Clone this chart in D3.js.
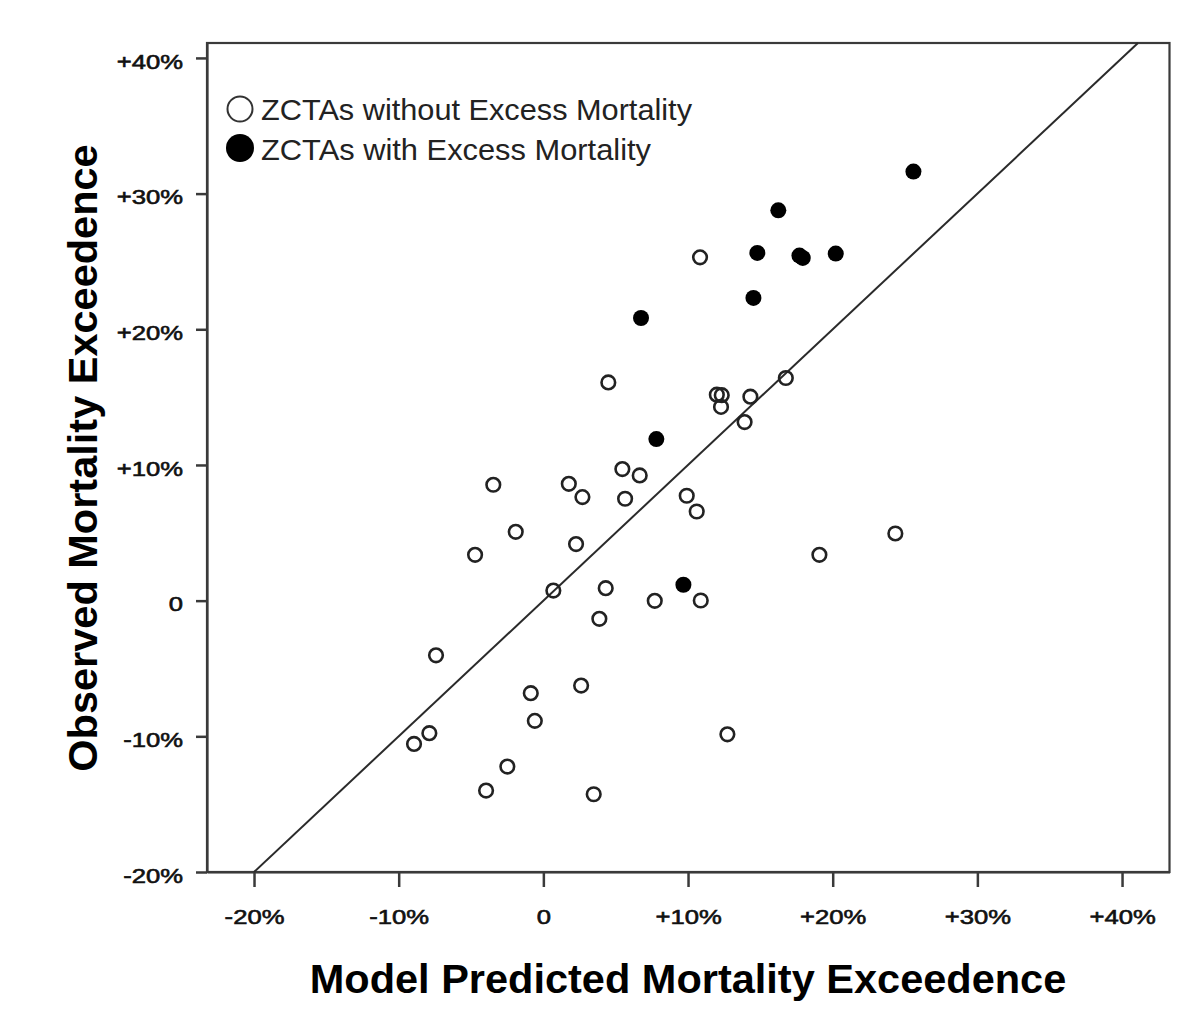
<!DOCTYPE html>
<html>
<head>
<meta charset="utf-8">
<script src="https://cdn.jsdelivr.net/npm/d3@7"></script>
<style>
  html, body { margin: 0; padding: 0; background: #fff; }
  svg { display: block; }
</style>
</head>
<body>
<svg id="chart" width="1200" height="1020"></svg>
<script>
// ---- Data (percent exceedence) ----
const withoutX = [4.49, 11.99, 12.33, 12.28, 14.31, 13.91, 16.76, 10.83, 5.46, 6.66,
  -3.46, 1.76, 2.70, 5.65, 9.91, 10.60, -1.91, 2.26, -4.72, 0.69,
  4.31, 7.70, 10.88, 3.87, -7.42, -0.87, 2.61, -0.59, -7.88, -8.94,
  12.72, -2.49, -3.96, 3.48, 19.08, 24.33];
const withoutY = [16.08, 15.18, 15.14, 14.28, 15.03, 13.16, 16.41, 25.30, 9.70, 9.23,
  8.54, 8.61, 7.63, 7.51, 7.73, 6.57, 5.07, 4.17, 3.38, 0.74,
  0.92, -0.01, 0.01, -1.34, -4.03, -6.82, -6.26, -8.86, -9.77, -10.56,
  -9.85, -12.23, -14.00, -14.27, 3.38, 4.95];
const withX = [25.58, 16.24, 14.79, 17.70, 17.93, 20.21, 14.52, 6.75, 7.81, 9.68];
const withY = [31.62, 28.77, 25.63, 25.43, 25.26, 25.58, 22.31, 20.83, 11.91, 1.17];
const xTicks = [-20, -10, 0, 10, 20, 30, 40];
const yTicks = [-20, -10, 0, 10, 20, 30, 40];
const legendLabels = ["ZCTAs without Excess Mortality", "ZCTAs with Excess Mortality"];
const xTitle = "Model Predicted Mortality Exceedence";
const yTitle = "Observed Mortality Exceedence";
const xDomain = [-23.25, 43.28];
const yDomain = [-20, 41.1];
const identityLine = [-20, 41.1];

const fmt = v => v > 0 ? "+" + v + "%" : (v < 0 ? v + "%" : "0");

// ---- Layout ----
const L = 207, R = 1169.5, T = 43, B = 872;
const svg = d3.select("#chart");
const x = d3.scaleLinear().domain(xDomain).range([L, R]);
const y = d3.scaleLinear().domain(yDomain).range([B, T]);

const dark = "#2a2a2a";
const tickFont = "'Liberation Sans', Arial, sans-serif";

// Frame
svg.append("rect")
  .attr("x", L).attr("y", T).attr("width", R - L).attr("height", B - T)
  .attr("fill", "none").attr("stroke", "#3a3a3a").attr("stroke-width", 2.2);

// X axis
const xAxis = svg.append("g")
  .attr("transform", `translate(0,${B})`)
  .call(d3.axisBottom(x).tickValues(xTicks).tickFormat(fmt)
    .tickSizeInner(15).tickSizeOuter(0).tickPadding(22));
xAxis.select(".domain").attr("stroke", "#3a3a3a").attr("stroke-width", 2.2);
xAxis.selectAll(".tick line").attr("stroke", "#3a3a3a").attr("stroke-width", 2.5);
xAxis.selectAll(".tick text").attr("dy", "0.71em");

// Y axis
const yAxis = svg.append("g")
  .attr("transform", `translate(${L},0)`)
  .call(d3.axisLeft(y).tickValues(yTicks).tickFormat(fmt)
    .tickSizeInner(11).tickSizeOuter(0).tickPadding(13));
yAxis.select(".domain").attr("stroke", "#3a3a3a").attr("stroke-width", 2.2);
yAxis.selectAll(".tick line").attr("stroke", "#3a3a3a").attr("stroke-width", 2.5);
yAxis.selectAll(".tick text").attr("dy", "0.5em");

// Tick label styling: wide, slightly heavy glyphs as in the reference
svg.selectAll(".tick text")
  .attr("font-family", tickFont).attr("font-size", 20.5).attr("fill", "#111")
  .attr("stroke", "#111").attr("stroke-width", 0.6)
  .each(function () {
    const w = this.getComputedTextLength();
    d3.select(this).attr("textLength", w * 1.25).attr("lengthAdjust", "spacingAndGlyphs");
  });

// Identity line
svg.append("line")
  .attr("x1", x(identityLine[0])).attr("y1", y(identityLine[0]))
  .attr("x2", x(identityLine[1])).attr("y2", y(identityLine[1]))
  .attr("stroke", dark).attr("stroke-width", 2);

// Points: without excess mortality (open)
const openData = withoutX.map((v, i) => [v, withoutY[i]]);
svg.append("g").selectAll("circle").data(openData).join("circle")
  .attr("cx", d => x(d[0])).attr("cy", d => y(d[1])).attr("r", 6.8)
  .attr("fill", "none").attr("stroke", "#222").attr("stroke-width", 2.6);

// Points: with excess mortality (filled)
const fillData = withX.map((v, i) => [v, withY[i]]);
svg.append("g").selectAll("circle").data(fillData).join("circle")
  .attr("cx", d => x(d[0])).attr("cy", d => y(d[1])).attr("r", 8)
  .attr("fill", "#000");

// Legend
const legendWidths = [431, 390];
const lg = svg.append("g");
lg.append("circle").attr("cx", 240).attr("cy", 109).attr("r", 12.5)
  .attr("fill", "none").attr("stroke", "#333").attr("stroke-width", 2);
lg.append("circle").attr("cx", 240).attr("cy", 148).attr("r", 14).attr("fill", "#000");
lg.selectAll("text").data(legendLabels).join("text")
  .attr("x", 261).attr("y", (d, i) => 120 + i * 39.5)
  .attr("font-family", tickFont).attr("font-size", 29.5).attr("fill", "#222")
  .attr("textLength", (d, i) => legendWidths[i]).attr("lengthAdjust", "spacingAndGlyphs")
  .text(d => d);

// Axis titles
svg.append("text")
  .attr("x", 688).attr("y", 993).attr("text-anchor", "middle")
  .attr("font-family", tickFont).attr("font-weight", "bold").attr("font-size", 41.5)
  .attr("fill", "#000").text(xTitle);
svg.append("text")
  .attr("transform", "translate(97,458) rotate(-90)").attr("text-anchor", "middle")
  .attr("font-family", tickFont).attr("font-weight", "bold").attr("font-size", 41.5)
  .attr("fill", "#000").text(yTitle);
</script>
</body>
</html>
